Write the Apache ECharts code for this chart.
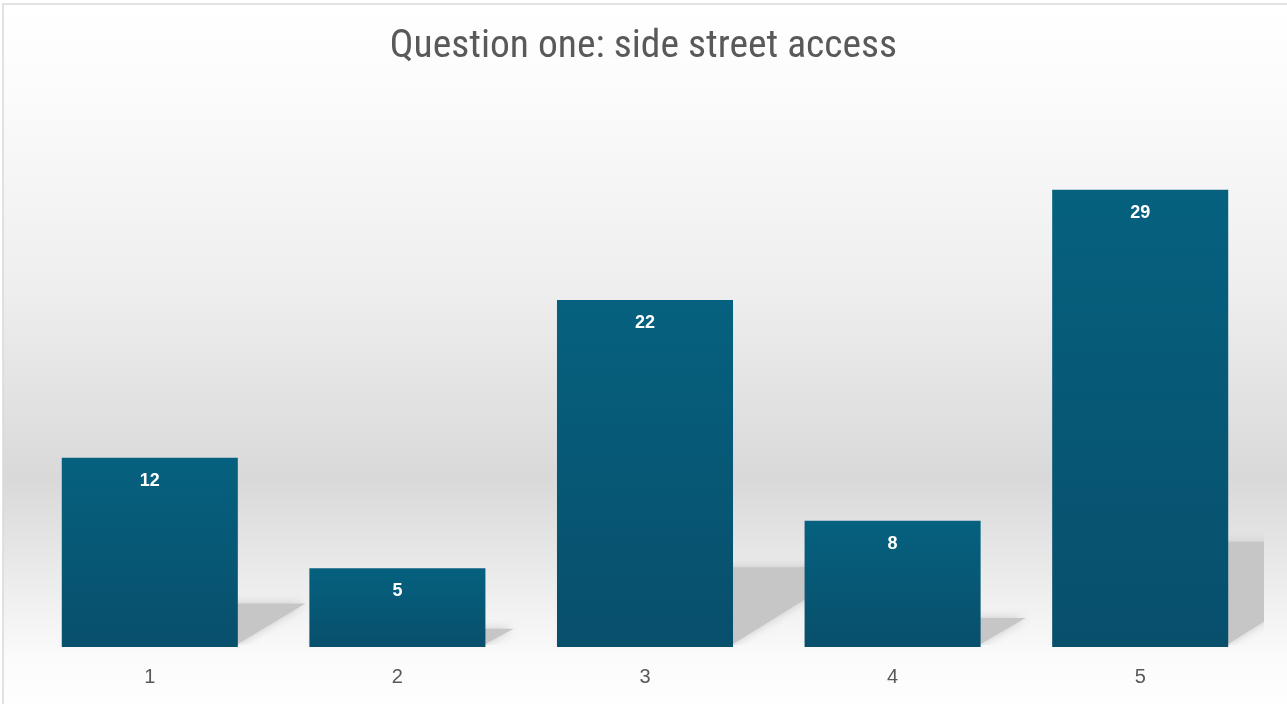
<!DOCTYPE html>
<html>
<head>
<meta charset="utf-8">
<script src="https://cdn.jsdelivr.net/npm/echarts@6/dist/echarts.min.js"></script>
<style>
html,body{margin:0;padding:0;background:#fff;}
#chart{width:1287px;height:704px;}
</style>
</head>
<body>
<div id="chart"></div>
<script>
const titleText = 'Question one: side street access';
const categories = ['1', '2', '3', '4', '5'];
const values = [12, 5, 22, 8, 29];
const yMax = 35;

const chart = echarts.init(document.getElementById('chart'));
const BAR_GAP = 0.289;

const option = {
  animation: false,
  backgroundColor: '#ffffff',
  graphic: [
    {
      type: 'rect', z: -10, silent: true,
      shape: { x: 3, y: 4, width: 1300, height: 720 },
      style: {
        fill: new echarts.graphic.LinearGradient(0, 0, 0, 1, [
          { offset: 0, color: '#ffffff' },
          { offset: 0.13, color: '#fbfbfb' },
          { offset: 0.40, color: '#eeeeee' },
          { offset: 0.66, color: '#d9d9d9' },
          { offset: 0.91, color: '#fbfbfb' },
          { offset: 1, color: '#ffffff' }
        ]),
        stroke: '#d9d9d9', lineWidth: 1.5
      }
    }
  ],
  title: {
    text: titleText,
    left: 'center',
    top: 22,
    textStyle: {
      fontFamily: '"Liberation Sans Narrow", "Roboto Condensed", "Noto Sans", sans-serif',
      fontWeight: 'normal',
      fontSize: 39.5,
      color: '#595959'
    }
  },
  grid: { left: 26, right: 23, top: 95, bottom: 57 },
  xAxis: {
    type: 'category',
    data: categories,
    axisLine: { show: false },
    axisTick: { show: false },
    axisLabel: {
      color: '#595959', fontSize: 20, margin: 20,
      fontFamily: '"Liberation Sans", "Noto Sans", sans-serif'
    }
  },
  yAxis: {
    type: 'value', min: 0, max: yMax, interval: 5,
    show: false,
    splitLine: { show: false }
  },
  series: [
    {
      type: 'custom',
      z: 1,
      silent: true,
      data: values.map((v, i) => [i, v]),
      renderItem: function (params, api) {
        const cs = params.coordSys;
        const base = api.coord([api.value(0), 0]);
        const top = api.coord([api.value(0), api.value(1)]);
        const band = api.size([1, 0])[0];
        const w = band * (1 - BAR_GAP);
        const L = base[0] - w / 2, R = base[0] + w / 2;
        const H = base[1] - top[1];
        const h = H * 0.23;
        const dx = h * 1.55;
        return {
          type: 'polygon',
          shape: { points: [[L, base[1] - 3], [R, base[1] - 3], [R + dx, base[1] - h], [L + dx, base[1] - h]] },
          clipPath: { type: 'rect', shape: { x: cs.x, y: cs.y, width: cs.width, height: cs.height - 2 } },
          style: { fill: '#c6c6c6', shadowBlur: 10, shadowColor: 'rgba(195,195,195,0.9)' }
        };
      }
    },
    {
      type: 'bar',
      z: 3,
      data: values,
      barCategoryGap: (BAR_GAP * 100) + '%',
      itemStyle: {
        color: new echarts.graphic.LinearGradient(0, 0, 0, 1, [
          { offset: 0, color: '#05617f' },
          { offset: 1, color: '#084f6c' }
        ])
      },
      label: {
        show: true,
        position: 'insideTop',
        distance: 14,
        color: '#ffffff',
        fontWeight: 'bold',
        fontSize: 18,
        fontFamily: '"Liberation Sans", "Noto Sans", sans-serif'
      }
    }
  ]
};
chart.setOption(option);
</script>
</body>
</html>
